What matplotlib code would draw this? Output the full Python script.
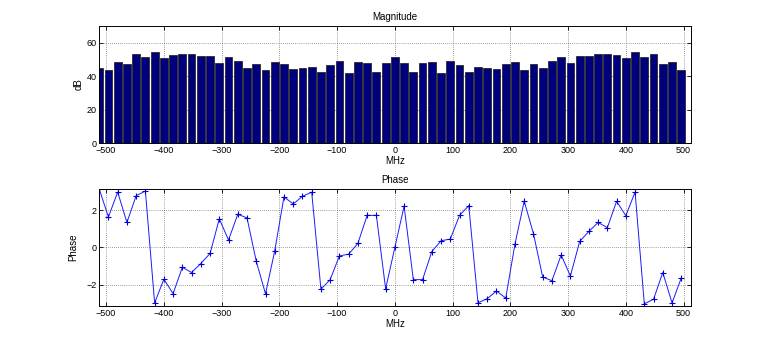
import numpy as np
import matplotlib
matplotlib.use("Agg")
import matplotlib.pyplot as plt

freqs = np.arange(-512, 512, 16)  # MHz, 64 bins

magnitude_db = [
    45.0, 43.6, 48.2, 47.0, 53.4, 51.4, 54.6, 51.0, 52.8, 53.4, 53.4, 51.8, 51.8, 48.0, 51.4, 49.0,
    45.0, 47.0, 43.6, 48.6, 47.0, 44.4, 45.0, 45.2, 42.6, 46.4, 49.0, 42.0, 48.6, 47.8, 42.6, 47.8,
    51.4, 47.8, 42.6, 47.8, 48.6, 42.0, 49.0, 46.4, 42.6, 45.2, 45.0, 44.4, 47.0, 48.6, 43.6, 47.0,
    45.0, 49.0, 51.4, 48.0, 51.8, 51.8, 53.4, 53.4, 52.8, 51.0, 54.6, 51.4, 53.4, 47.0, 48.2, 43.6,
]

phase = [
    3.14, 1.63, 2.97, 1.34, 2.77, 3.02, -2.97, -1.70, -2.47, -1.06, -1.34, -0.86, -0.32, 1.53, 0.40, 1.78,
    1.58, -0.74, -2.48, -0.18, 2.71, 2.33, 2.74, 2.96, -2.24, -1.72, -0.45, -0.36, 0.22, 1.72, 1.72, -2.21,
    0.00, 2.21, -1.72, -1.72, -0.22, 0.36, 0.45, 1.72, 2.24, -2.96, -2.74, -2.33, -2.71, 0.18, 2.48, 0.74,
    -1.58, -1.78, -0.40, -1.53, 0.32, 0.86, 1.34, 1.06, 2.47, 1.70, 2.97, -3.02, -2.77, -1.34, -2.97, -1.63,
]

xticks = [-500, -400, -300, -200, -100, 0, 100, 200, 300, 400, 500]

plt.rcParams['font.family'] = ['Liberation Sans', 'DejaVu Sans']
fs = 6.5

fig = plt.figure(figsize=(7.63, 3.44), dpi=100)
ax1 = fig.add_axes([0.13, 0.5838, 0.775, 0.3412])
ax2 = fig.add_axes([0.13, 0.11, 0.775, 0.3412])

def style(ax, below):
    ax.set_xlim(-512, 512)
    ax.set_xticks(xticks)
    ax.tick_params(direction='in', top=True, right=True, labelsize=fs, length=3, width=0.6, pad=2)
    ax.grid(True, linestyle=(0, (1, 2)), color='#444444', linewidth=0.5)
    ax.set_axisbelow(below)
    for s in ax.spines.values():
        s.set_linewidth(0.7)
        s.set_color('black')

ax1.bar(freqs, magnitude_db, width=13.5, color='#00007f', edgecolor='#2a2a2a', linewidth=0.6, zorder=2)
style(ax1, True)
ax1.set_ylim(0, 70)
ax1.set_yticks([0, 20, 40, 60])
ax1.set_title('Magnitude', fontsize=fs + 0.5, pad=4)
ax1.set_xlabel('MHz', fontsize=fs + 0.5, labelpad=1)
ax1.set_ylabel('dB', fontsize=fs + 0.5, labelpad=2)

ax2.plot(freqs, phase, color='#1a1aff', linewidth=0.7, marker='+', markersize=5,
         markeredgewidth=0.8, markeredgecolor='#0000cc')
style(ax2, False)
ax2.set_ylim(-np.pi, np.pi)
ax2.set_yticks([-2, 0, 2])
ax2.set_title('Phase', fontsize=fs + 0.5, pad=4)
ax2.set_xlabel('MHz', fontsize=fs + 0.5, labelpad=1)
ax2.set_ylabel('Phase', fontsize=fs + 0.5, labelpad=6)

fig.savefig('out.png', dpi=100)
